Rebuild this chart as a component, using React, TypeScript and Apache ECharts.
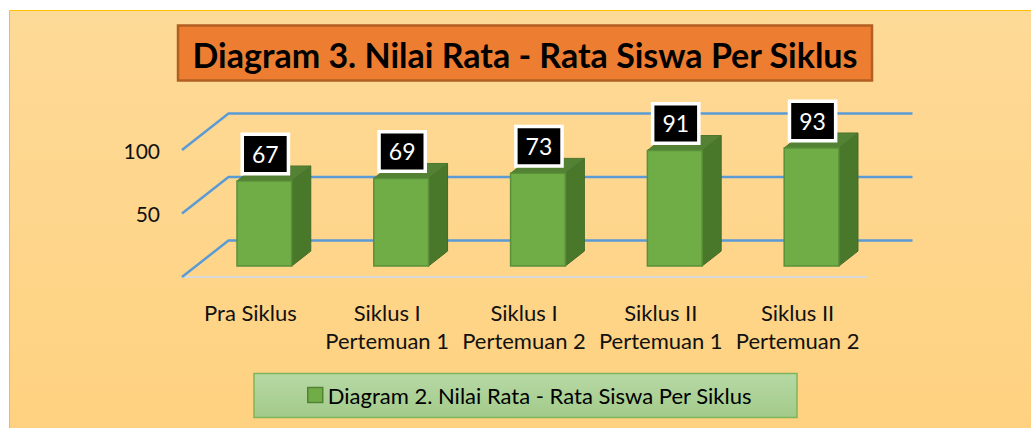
import React, { useEffect, useRef } from "react";
import * as echarts from "echarts";

const TITLE = "Diagram 3. Nilai Rata - Rata Siswa Per Siklus";
const SERIES_NAME = "Diagram 2. Nilai Rata - Rata Siswa Per Siklus";
const CATEGORIES = [
  "Pra Siklus",
  "Siklus I\nPertemuan 1",
  "Siklus I\nPertemuan 2",
  "Siklus II\nPertemuan 1",
  "Siklus II\nPertemuan 2",
];
const VALUES = [67, 69, 73, 91, 93];
const GRID_VALUES = [0, 50, 100];
const Y_TICK_LABELS = ["", "50", "100"];

const FONT = "Lato, 'Open Sans', sans-serif";
const DX = 46.5;
const DY = -36.5;
const D0 = 0.3;
const D1 = 0.71;

export default function App() {
  const ref = useRef<HTMLDivElement>(null);

  useEffect(() => {
    if (!ref.current) return;
    const chart = echarts.init(ref.current, null, { renderer: "svg" });

    const renderGrid = (params: any, api: any) => {
      const cs = params.coordSys;
      const y = api.coord([0, api.value(1)])[1];
      const left = cs.x;
      const right = cs.x + cs.width;
      return {
        type: "polyline",
        shape: {
          points: [
            [left, y],
            [left + DX, y + DY],
            [right + DX, y + DY],
          ],
        },
        style: { stroke: "#5b9bd5", lineWidth: 2.5, fill: "none" },
      };
    };

    const renderBar = (params: any, api: any) => {
      const i = api.value(0);
      const v = api.value(1);
      const base = api.coord([i, 0]);
      const top = api.coord([i, v]);
      const band = api.size([1, 0])[0];
      const w = band * 0.4;
      const cx = base[0] + D0 * DX;
      const x0 = cx - w / 2;
      const x1 = cx + w / 2;
      const yb = base[1] + D0 * DY;
      const yt = top[1] + D0 * DY;
      const sx = (D1 - D0) * DX;
      const sy = (D1 - D0) * DY;
      return {
        type: "group",
        children: [
          {
            type: "polygon",
            shape: {
              points: [
                [x1, yb],
                [x1, yt],
                [x1 + sx, yt + sy],
                [x1 + sx, yb + sy],
              ],
            },
            style: { fill: "#4a782b", stroke: "#42692a", lineWidth: 1 },
          },
          {
            type: "polygon",
            shape: {
              points: [
                [x0, yt],
                [x1, yt],
                [x1 + sx, yt + sy],
                [x0 + sx, yt + sy],
              ],
            },
            style: { fill: "#548235", stroke: "#4a762e", lineWidth: 1 },
          },
          {
            type: "rect",
            shape: { x: x0, y: yt, width: w, height: yb - yt },
            style: { fill: "#70ad47", stroke: "#5a9038", lineWidth: 1.5 },
          },
          {
            type: "text",
            x: cx + 1,
            y: yt - 27,
            style: {
              text: String(v),
              fill: "#ffffff",
              font: `23px ${FONT}`,
              align: "center",
              verticalAlign: "middle",
              lineHeight: 23,
              backgroundColor: "#000000",
              borderColor: "#ffffff",
              borderWidth: 3.5,
              padding: [7, 8, 6, 8],
            },
          },
        ],
      };
    };

    chart.setOption({
      animation: false,
      graphic: [
        {
          type: "rect",
          z: -10,
          shape: { x: 9.5, y: 10.5, width: 1100, height: 500 },
          style: {
            fill: new echarts.graphic.LinearGradient(0, 0, 0, 1, [
              { offset: 0, color: "#feda98" },
              { offset: 1, color: "#fed07b" },
            ]),
            stroke: "#ffc000",
            lineWidth: 1,
          },
        },
        {
          type: "rect",
          z: 1,
          shape: { x: 178, y: 25.5, width: 694, height: 55 },
          style: { fill: "#ed7d31", stroke: "#b25f22", lineWidth: 2.5 },
        },
        {
          type: "text",
          z: 2,
          x: 525,
          y: 54,
          style: {
            text: TITLE,
            font: `bold 34px ${FONT}`,
            fill: "#000000",
            align: "center",
            verticalAlign: "middle",
            textAlign: "center",
            textVerticalAlign: "middle",
          },
        },
        {
          type: "rect",
          z: 1,
          shape: { x: 254, y: 373.5, width: 543, height: 44 },
          style: {
            fill: new echarts.graphic.LinearGradient(0, 0, 0, 1, [
              { offset: 0, color: "#b7d9a5" },
              { offset: 1, color: "#a2ca89" },
            ]),
            stroke: "#7db65a",
            lineWidth: 1.5,
          },
        },
      ],
      legend: {
        data: [SERIES_NAME],
        left: 307,
        top: 383,
        padding: 0,
        itemWidth: 15,
        itemHeight: 15,
        icon: "rect",
        itemStyle: { color: "#70ad47", borderColor: "#548235", borderWidth: 1.5 },
        textStyle: { fontFamily: FONT, fontSize: 22, color: "#000000", lineHeight: 24 },
        selectedMode: false,
      },
      grid: { left: 182, right: 165, top: 150, bottom: 151, containLabel: false },
      xAxis: {
        type: "category",
        data: CATEGORIES,
        axisLine: { show: true, lineStyle: { color: "#d9d9d9", width: 2 } },
        axisTick: { show: false },
        axisLabel: {
          interval: 0,
          margin: 21,
          lineHeight: 28,
          fontFamily: FONT,
          fontSize: 22,
          color: "#111111",
        },
        splitLine: { show: false },
      },
      yAxis: {
        type: "value",
        min: 0,
        max: 100,
        interval: 50,
        axisLine: { show: false },
        axisTick: { show: false },
        splitLine: { show: false },
        axisLabel: {
          margin: 22,
          fontFamily: FONT,
          fontSize: 21,
          color: "#111111",
          padding: [7, 0, 0, 0],
          formatter: (val: number) => Y_TICK_LABELS[GRID_VALUES.indexOf(val)] ?? "",
        },
      },
      series: [
        {
          type: "custom",
          name: "grid",
          z: 1,
          clip: false,
          silent: true,
          renderItem: renderGrid,
          encode: { x: 0, y: 1 },
          data: GRID_VALUES.map((v) => [0, v]),
        },
        {
          type: "custom",
          name: SERIES_NAME,
          z: 3,
          clip: false,
          renderItem: renderBar,
          encode: { x: 0, y: 1 },
          itemStyle: { color: "#70ad47", borderColor: "#548235" },
          data: VALUES.map((v, i) => [i, v]),
        },
      ],
    });

    return () => chart.dispose();
  }, []);

  return (
    <div
      ref={ref}
      style={{ position: "fixed", left: 0, top: 0, width: 1031, height: 428, background: "#ffffff" }}
    />
  );
}
